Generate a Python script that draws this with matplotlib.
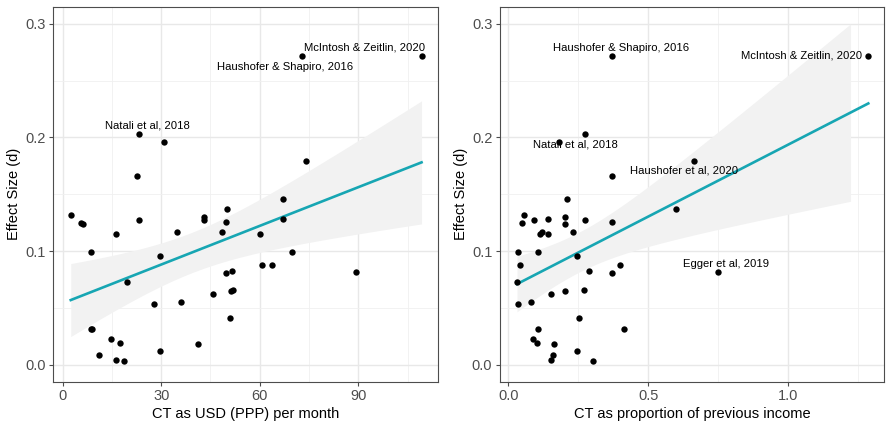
import numpy as np
import matplotlib.pyplot as plt

# effect sizes (d), shared by both panels
effect = [0.272, 0.2716, 0.2027, 0.1956, 0.1795, 0.166, 0.146, 0.137, 0.1321, 0.130,
          0.128, 0.1274, 0.1274, 0.1256, 0.1247, 0.1236, 0.1171, 0.1165, 0.1147, 0.1147,
          0.0994, 0.0991, 0.0956, 0.088, 0.088, 0.0821, 0.0815, 0.0803, 0.0727, 0.0653,
          0.065, 0.0624, 0.0553, 0.0533, 0.0412, 0.0318, 0.0318, 0.0224, 0.0188, 0.0182,
          0.0118, 0.0088, 0.0038, 0.0032]
# CT in USD (PPP) per month
usd = [109.2, 72.7, 23.2, 31.0, 74.1, 22.6, 67.0, 49.9, 2.5, 42.9,
       67.0, 23.2, 42.9, 49.7, 5.7, 6.3, 34.9, 48.5, 16.4, 60.1,
       8.6, 69.8, 29.7, 60.6, 63.6, 51.6, 89.3, 49.6, 19.7, 51.7,
       51.1, 45.7, 35.9, 27.8, 51.0, 8.6, 9.1, 14.8, 17.5, 41.3,
       29.7, 11.0, 16.3, 18.8]
# CT as proportion of previous income
prop = [1.287, 0.372, 0.273, 0.182, 0.663, 0.372, 0.211, 0.598, 0.056, 0.203,
        0.142, 0.092, 0.273, 0.372, 0.048, 0.201, 0.120, 0.231, 0.112, 0.142,
        0.106, 0.036, 0.247, 0.400, 0.042, 0.287, 0.749, 0.372, 0.031, 0.269,
        0.201, 0.151, 0.081, 0.036, 0.251, 0.106, 0.414, 0.089, 0.101, 0.162,
        0.246, 0.159, 0.153, 0.302]

# labelled studies: (index, name, offset in points)
labels_usd = [(0, "McIntosh & Zeitlin, 2020", (-41, 5.5)),
              (1, "Haushofer & Shapiro, 2016", (-12, -7.7)),
              (2, "Natali et al, 2018", (6.5, 6.3))]
labels_prop = [(1, "Haushofer & Shapiro, 2016", (6.3, 5.8)),
               (0, "McIntosh & Zeitlin, 2020", (-48, 0)),
               (3, "Natali et al, 2018", (11.3, -1.2)),
               (4, "Haushofer et al, 2020", (-6.7, -7.4)),
               (26, "Egger et al, 2019", (6, 5.8))]

plt.rcParams['font.family'] = ['Liberation Sans', 'DejaVu Sans']

TEAL = '#17A6B3'
YMAX = 0.3


def smooth(ax, x, y):
    x = np.asarray(x)
    y = np.asarray(y)
    n = len(x)
    b, a = np.polyfit(x, y, 1)
    xs = np.linspace(x.min(), x.max(), 80)
    fit = a + b * xs
    resid = y - (a + b * x)
    s = np.sqrt(np.sum(resid ** 2) / (n - 2))
    se = s * np.sqrt(1 / n + (xs - x.mean()) ** 2 / np.sum((x - x.mean()) ** 2))
    t = 2.018
    lo = fit - t * se
    hi = fit + t * se
    ok = hi <= YMAX  # ribbon dropped where it leaves the y scale
    ax.fill_between(xs[ok], lo[ok], hi[ok], color='#F2F2F2', lw=0, zorder=1)
    ax.plot(xs, fit, color=TEAL, lw=1.9, zorder=2)


def panel(ax, x, xlabel, xticks, xminor, xlim, labels):
    ax.set_facecolor('white')
    ax.set_xlim(*xlim)
    ax.set_ylim(-0.015, 0.315)
    ax.set_xticks(xticks)
    ax.set_xticks(xminor, minor=True)
    ax.set_yticks([0.0, 0.1, 0.2, 0.3])
    ax.set_yticks([0.05, 0.15, 0.25], minor=True)
    ax.grid(which='major', color='#E8E8E8', lw=1.0, zorder=0)
    ax.grid(which='minor', color='#F0F0F0', lw=0.6, zorder=0)
    ax.set_axisbelow(True)
    smooth(ax, x, effect)
    ax.scatter(x, effect, s=21, color='black', lw=0, zorder=3)
    for i, name, off in labels:
        ax.annotate(name, (x[i], effect[i]), xytext=off, textcoords='offset points',
                    ha='center', va='center', fontsize=8.1, color='black', zorder=4)
    for sp in ax.spines.values():
        sp.set_color('#4D4D4D')
        sp.set_linewidth(0.8)
    ax.tick_params(which='major', length=3, width=0.8, color='#4D4D4D',
                   labelcolor='#4D4D4D', labelsize=10.5, pad=2.5)
    ax.tick_params(which='minor', length=0)
    ax.set_xlabel(xlabel, fontsize=10.5, labelpad=3)
    ax.set_ylabel("Effect Size (d)", fontsize=10.5, labelpad=3)


fig = plt.figure(figsize=(8.93, 4.28), dpi=100)
ax1 = fig.add_axes([0.0597, 0.1082, 0.4308, 0.8762])
ax2 = fig.add_axes([0.5599, 0.1082, 0.4303, 0.8762])

panel(ax1, usd, "CT as USD (PPP) per month", [0, 30, 60, 90], [15, 45, 75, 105],
      (-2.8, 114.2), labels_usd)
ax1.set_yticklabels(['0.0', '0.1', '0.2', '0.3'])
panel(ax2, prop, "CT as proportion of previous income", [0.0, 0.5, 1.0], [0.25, 0.75, 1.25],
      (-0.0297, 1.344), labels_prop)
ax2.set_xticklabels(['0.0', '0.5', '1.0'])
ax2.set_yticklabels(['0.0', '0.1', '0.2', '0.3'])

fig.savefig('out.png', dpi=100)
